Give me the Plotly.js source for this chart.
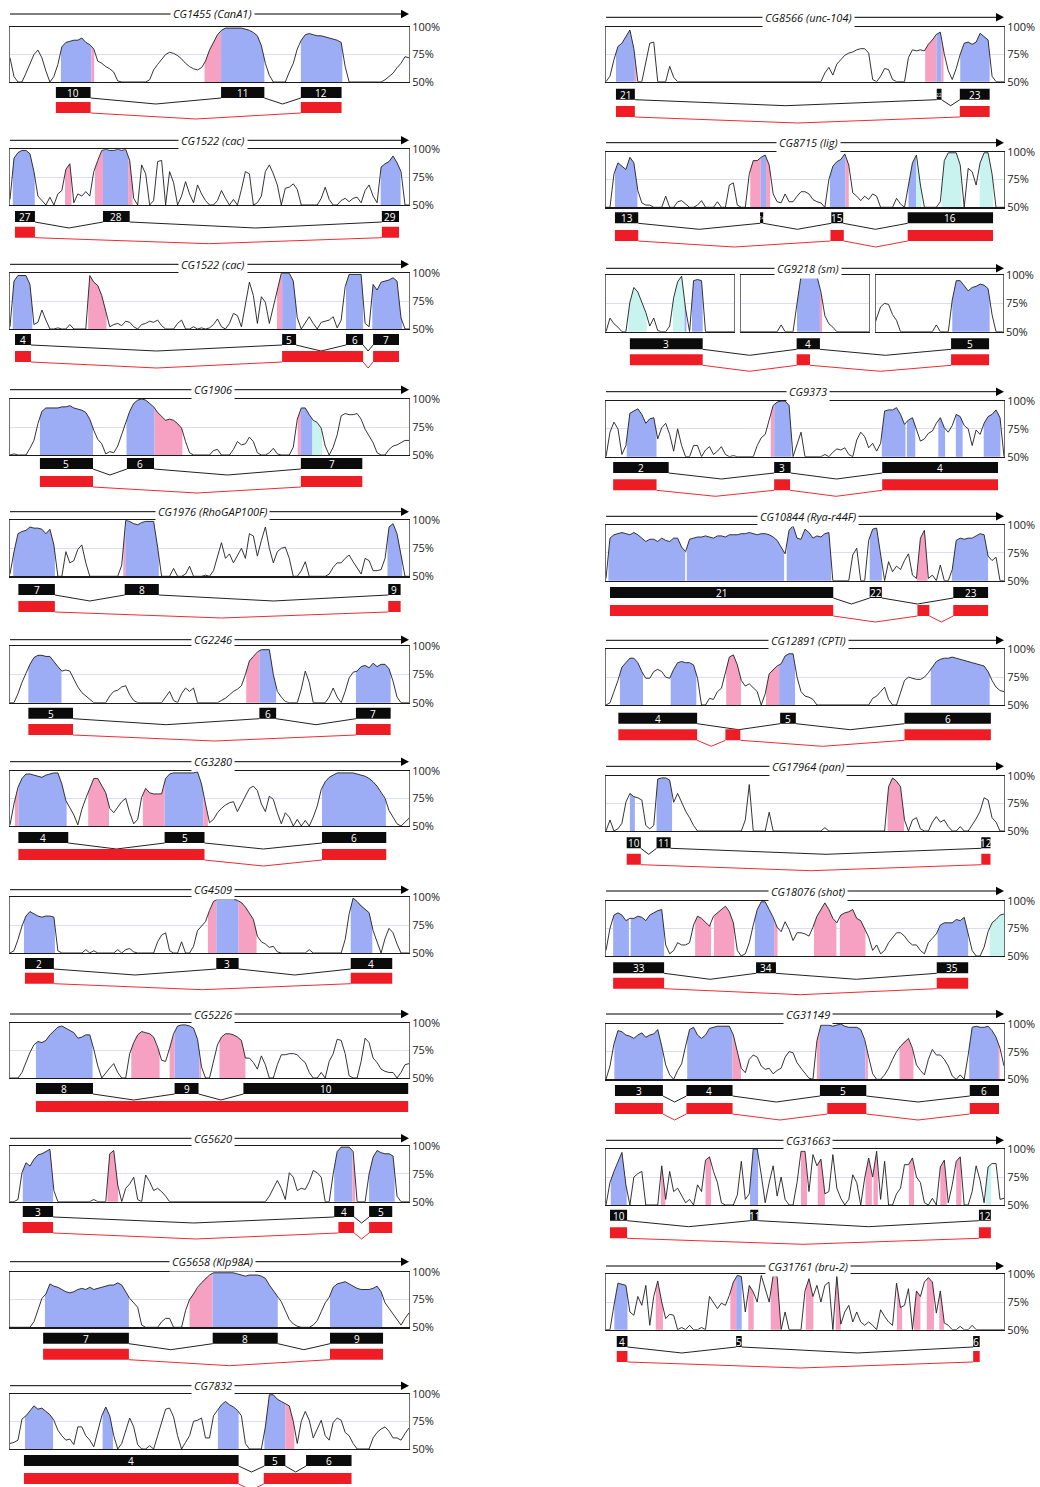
<!DOCTYPE html>
<html>
<head>
<meta charset="utf-8">
<script src="https://cdn.plot.ly/plotly-3.0.1.min.js"></script>
<style>
  html, body { margin: 0; padding: 0; background: #fff; }
  #chart { width: 1040px; height: 1487px; }
</style>
</head>
<body>
<div id="chart"></div>
<script>
// Conservation profiles (% identity, 50-100) sampled at 101 evenly spaced
// positions across each gene window (position 0..100).
const consCG1455 = [
72,55,50,50,58,67,75,79,72,60, 50,55,66,82,86,87,88,88,90,86,
84,80,69,67,64,62,59,51,50,50, 50,50,50,50,50,52,61,66,71,75,
77,76,74,71,67,64,62,61,63,69, 79,86,93,97,99,99,99,99,99,98,
97,95,92,83,67,56,50,50,50,50, 59,67,80,88,93,94,93,92,92,91,
90,89,88,86,64,50,50,50,50,50, 50,50,50,50,52,55,58,63,67,73, 72];
const consCG1522A = [
55,92,97,99,99,96,80,58,54,50, 57,50,60,63,82,87,52,60,58,62,
58,80,90,99,100,99,99,100,99,100, 90,56,50,86,78,50,54,89,90,50,
80,70,50,58,71,60,52,68,60,54, 50,50,54,63,56,50,55,50,64,80,
78,50,52,58,80,86,78,68,50,65, 66,69,64,50,50,50,50,50,56,66,
55,50,50,54,56,53,56,57,52,63, 68,58,52,84,87,89,94,88,80,50, 50];
const consCG1522B = [
52,93,98,98,98,90,54,56,67,58, 50,50,51,50,50,54,50,50,50,50,
98,92,89,80,66,52,54,55,53,57, 56,52,50,54,55,57,56,58,53,50,
50,50,55,58,50,50,52,50,51,50, 51,54,59,52,50,55,64,62,52,72,
92,80,55,79,74,55,70,85,100,100, 100,93,60,50,55,61,55,50,56,57,
58,61,51,58,88,99,99,99,99,55, 52,90,85,92,93,94,96,93,60,50, 50];
const consCG1906 = [
50,51,50,50,50,56,63,78,89,92, 92,92,92,93,93,94,92,91,90,88,
82,72,64,60,51,53,52,58,68,78, 89,96,99,100,99,96,93,88,84,81,
82,81,78,74,62,52,50,50,50,50, 50,54,55,50,50,50,55,62,59,60,
66,62,52,50,50,52,56,51,50,50, 50,57,82,92,92,86,81,79,74,58,
50,57,68,85,87,86,86,87,82,73, 67,61,52,50,50,55,58,59,61,63, 63];
const consCG1976 = [
52,72,88,90,91,94,93,93,92,88, 92,78,50,50,72,62,64,74,78,62,
50,50,50,50,50,50,50,50,60,100, 99,97,96,98,99,99,99,76,50,50,
50,57,50,50,52,59,50,50,50,51, 50,55,68,80,66,70,62,68,75,66,
88,86,68,82,94,75,62,72,75,76, 66,50,50,55,63,50,50,50,50,50,
52,58,62,62,66,69,63,58,52,66, 64,55,55,56,66,94,97,88,70,50, 50];
const consCG2246 = [
50,50,58,68,76,84,90,92,92,91, 91,86,82,78,79,78,71,64,59,56,
53,50,50,50,50,56,60,61,64,65, 57,52,50,50,50,50,50,50,50,55,
60,52,50,58,63,60,63,50,50,50, 50,50,50,52,54,57,60,62,65,75,
87,91,95,97,97,97,75,60,55,51, 50,50,50,62,78,68,50,50,50,50,
55,63,55,50,60,72,77,78,82,83, 81,85,82,84,84,80,69,55,50,50, 50];
const consCG3280 = [
51,70,85,93,97,97,96,95,94,96, 97,98,98,88,73,67,60,51,65,75,
84,93,93,86,80,66,62,67,72,75, 62,52,56,76,84,80,79,79,79,93,
97,98,98,98,98,98,98,99,88,70, 53,56,62,66,69,71,72,63,70,78,
84,86,82,70,63,77,74,62,52,62, 58,50,56,50,55,50,58,68,83,90,
94,96,98,98,98,98,98,97,96,95, 93,90,86,80,75,64,58,52,50,54, 57];
const consCG4509 = [
50,52,62,74,83,87,85,83,82,83, 83,82,52,50,50,50,50,50,50,53,
50,52,50,50,50,50,50,53,50,53, 54,51,50,50,50,50,50,60,66,68,
52,50,50,60,50,50,56,70,74,78, 88,96,98,98,98,98,98,97,95,91,
86,80,65,60,58,55,56,51,50,50, 50,50,50,50,50,53,50,50,50,50,
50,50,50,50,62,85,99,96,92,89, 86,70,60,50,63,72,68,58,50,50, 50];
const consCG5226 = [
50,50,50,55,64,73,80,83,82,84, 89,93,96,97,95,93,91,86,87,89,
89,76,61,50,54,59,63,55,50,50, 72,82,89,92,91,90,87,78,66,65,
77,90,97,98,98,97,95,85,60,50, 50,66,80,87,90,90,89,87,84,68,
68,64,58,70,62,50,50,62,71,71, 72,72,71,67,64,55,50,50,55,50,
65,72,85,84,72,52,50,50,65,86, 82,68,64,58,56,55,55,50,55,62, 63];
const consCG5620 = [
50,50,52,76,85,82,88,92,93,95, 97,60,50,50,50,50,50,50,50,50,
50,52,50,50,50,93,96,65,50,62, 66,72,52,50,74,68,60,62,59,55,
50,50,50,50,50,50,50,50,50,50, 50,50,50,50,50,50,50,50,50,50,
50,50,50,50,50,55,62,69,62,52, 76,72,60,62,61,68,78,76,72,50,
50,75,95,99,99,99,95,50,50,50, 75,90,96,94,93,93,91,55,50,50, 50];
const consCG5658 = [
50,50,50,50,50,50,55,66,76,80, 89,87,86,84,82,81,82,84,85,84,
86,84,85,86,87,88,88,90,88,82, 76,72,68,52,50,50,50,50,55,58,
58,50,50,50,65,75,80,86,90,94, 97,99,99,99,99,99,99,98,97,96,
97,97,97,96,94,88,83,78,73,65, 57,53,51,50,50,50,52,56,64,72,
77,86,89,90,91,89,87,85,84,84, 84,85,87,82,72,67,62,57,52,58, 63];
const consCG7832 = [
55,56,58,77,80,84,89,86,87,84, 81,76,67,62,58,59,54,70,70,62,
58,52,66,80,88,80,62,50,55,66, 78,70,54,50,50,53,50,62,74,86,
87,79,62,50,56,62,75,76,78,60, 60,80,85,90,93,90,88,85,80,55,
50,50,50,50,70,99,99,95,93,91, 89,75,55,75,84,76,60,68,76,62,
58,74,78,76,65,62,55,50,50,50, 50,60,65,68,70,66,60,60,58,64, 69];
const consCG8566 = [
50,55,70,82,85,91,97,80,50,50, 68,85,86,50,50,50,64,54,50,50,
50,50,50,50,50,50,50,50,50,50, 50,50,50,50,50,50,50,50,50,50,
50,50,50,50,50,50,50,50,50,50, 50,50,50,50,50,58,63,56,66,70,
74,76,77,79,80,80,76,52,50,55, 62,61,52,50,50,50,72,79,78,79,
78,84,88,93,95,75,60,52,62,75, 85,86,84,86,94,91,88,55,50,50, 50];
const consCG8715 = [
50,50,80,90,87,84,95,90,65,54, 52,52,50,50,50,60,50,50,55,56,
53,50,50,52,56,50,50,50,55,50, 50,70,72,52,50,50,80,92,92,95,
97,88,62,55,54,62,55,55,60,64, 64,62,57,55,54,50,75,87,91,93,
98,88,63,60,56,60,57,62,60,50, 50,50,50,58,53,50,70,90,97,70,
50,50,50,50,55,92,99,99,99,88, 50,85,82,70,90,99,99,80,50,50, 50];
const consCG9218 = [
50,62,57,54,50,50,76,89,85,76, 67,55,62,51,50,50,55,80,94,99,
70,50,95,96,95,50,50,50,50,50, 50,50,50,50,50,50,50,50,50,50,
50,50,50,50,56,50,50,50,75,99, 99,99,99,99,85,64,57,54,50,50,
50,50,50,50,50,50,50,50,62,72, 75,74,65,60,50,50,50,50,50,50,
50,50,50,56,50,50,50,78,95,95, 91,86,89,90,92,91,88,65,50,50, 50];
const consCG9373 = [
50,72,81,75,52,60,89,91,93,88, 80,84,85,66,76,80,70,55,75,60,
50,50,60,60,50,56,59,52,55,59, 52,50,51,50,50,50,50,50,60,67,
70,82,96,99,100,100,96,50,62,72, 50,50,50,50,50,52,50,54,57,56,
58,52,50,65,72,68,58,62,55,62, 91,92,92,94,88,79,83,85,75,64,
66,71,73,80,85,76,72,78,88,86, 78,75,60,74,70,80,86,88,92,85, 50];
const consCG10844 = [
52,88,91,92,93,92,91,93,91,88, 85,87,87,85,88,86,85,88,88,80,
76,87,88,89,89,90,89,88,90,90, 89,91,91,91,92,92,93,92,91,92,
92,91,89,86,80,74,95,99,88,87, 96,93,88,90,89,92,93,50,50,50,
50,50,73,79,50,50,86,96,97,72, 50,67,58,63,60,68,74,55,52,88,
95,52,55,50,64,50,50,60,86,88, 87,88,88,90,92,91,72,68,71,50, 50];
const consCG12891 = [
50,52,62,72,84,88,92,92,88,80, 74,74,80,82,80,75,74,82,88,89,
88,88,86,74,50,50,56,55,62,65, 80,93,95,86,72,67,69,65,62,50,
60,78,82,85,87,94,96,96,75,62, 58,57,55,50,50,50,50,50,50,50,
50,50,50,50,50,50,50,56,58,62, 66,55,50,50,62,72,75,74,73,73,
75,79,84,89,91,92,92,93,92,91, 90,89,88,87,86,85,80,72,66,63, 62];
const consCG17964 = [
50,60,50,52,57,76,84,81,80,78, 55,52,55,97,98,98,96,76,84,76,
68,62,55,50,50,50,50,50,50,50, 50,50,50,50,50,60,92,50,50,50,
50,67,50,50,50,50,50,50,50,50, 50,50,50,50,50,53,50,50,50,50,
50,50,50,50,50,50,50,50,50,50, 50,90,98,95,90,60,50,60,62,52,
50,50,58,63,58,60,54,50,50,54, 50,50,55,61,68,80,78,62,58,50, 50];
const consCG18076 = [
55,75,87,89,87,82,84,84,86,85, 82,87,89,91,92,60,52,55,62,60,
60,62,78,86,84,80,77,86,89,92, 95,90,80,55,50,52,62,78,92,99,
99,92,85,76,72,81,74,64,71,71, 70,68,76,86,92,98,92,84,80,87,
89,90,92,84,82,74,67,55,60,52, 55,62,66,71,71,68,63,60,60,55,
52,62,66,70,78,80,80,80,83,82, 85,70,55,50,50,58,72,80,83,87, 88];
const consCG31149 = [
50,62,82,94,93,90,89,87,90,92, 88,90,91,95,80,63,54,50,58,64,
80,95,97,90,87,90,96,97,98,98, 98,98,90,75,60,56,68,72,70,62,
59,60,55,58,60,70,75,74,65,60, 55,51,50,85,99,99,99,98,99,100,
98,97,97,97,95,86,70,55,50,50, 54,60,68,75,80,84,87,78,63,58,
54,68,77,72,72,68,62,53,50,54, 50,72,97,98,97,97,98,94,88,78, 62];
const consCG31663 = [
50,70,80,88,97,68,50,75,78,80, 50,50,50,50,85,55,80,62,65,58,
52,55,50,68,62,90,93,80,70,52, 50,50,50,59,89,55,60,100,100,77,
52,70,85,58,75,55,50,50,70,98, 98,62,95,85,91,60,62,95,65,56,
50,55,77,70,50,74,92,75,98,55, 89,50,50,60,65,86,86,92,75,70,
52,50,56,50,84,90,52,68,89,93, 50,50,62,85,72,52,84,87,87,55, 56];
const consCG31761 = [
50,50,72,92,91,90,66,63,80,72, 90,54,80,94,75,60,64,63,50,52,
50,54,50,50,52,50,80,75,69,74, 72,81,93,99,98,66,90,84,75,99,
88,75,99,98,50,66,50,50,50,50, 85,96,80,90,75,90,93,50,99,55,
66,72,57,66,57,54,57,54,50,68, 62,57,54,92,70,72,87,50,85,80,
93,97,93,65,85,56,54,50,50,53, 50,50,54,50,50,50,50,50,50,50, 50];

// Conserved regions: [start, end, class]
const regCG1455 = [[12.75,20.4,'coding'],[20.4,21.1,'noncoding'],[48.75,52.9,'noncoding'],[52.9,63.75,'coding'],[72.9,83.3,'coding']];
const regCG1522A = [[0.7,6.2,'coding'],[13.8,15.4,'noncoding'],[21.3,23.3,'noncoding'],[23.3,29.6,'coding'],[29.6,30.7,'noncoding'],[92.9,97.9,'coding']];
const regCG1522B = [[0.7,5.6,'coding'],[19.6,24.2,'noncoding'],[66.9,68.2,'noncoding'],[68.2,71.7,'coding'],[84.2,88.5,'coding'],[90.8,98.3,'coding']];
const regCG1906 = [[7.5,20.8,'coding'],[29.2,36.25,'coding'],[36.25,43.2,'noncoding'],[72.1,72.9,'noncoding'],[72.9,75.8,'coding'],[75.8,78.2,'utr']];
const regCG1976 = [[0.8,11.25,'coding'],[28.4,28.9,'noncoding'],[28.9,37.3,'coding'],[94.6,98.3,'coding']];
const regCG2246 = [[4.6,12.9,'coding'],[59.2,62.5,'noncoding'],[62.5,66.7,'coding'],[86.7,95.4,'coding']];
const regCG3280 = [[1.25,2.1,'noncoding'],[2.1,14.2,'coding'],[19.6,24.8,'noncoding'],[33.3,38.75,'noncoding'],[38.75,48.5,'coding'],[48.5,49.6,'noncoding'],[78.2,94.2,'coding']];
const regCG4509 = [[3.5,11.25,'coding'],[49.6,51.7,'noncoding'],[51.7,57.3,'coding'],[57.3,61.8,'noncoding'],[85.4,90.8,'coding']];
const regCG5226 = [[6.5,20.7,'coding'],[30.4,37.5,'noncoding'],[40,41.25,'noncoding'],[41.25,47.5,'coding'],[47.5,47.9,'noncoding'],[52.5,59,'noncoding']];
const regCG5620 = [[3.2,10.8,'coding'],[24.4,27.1,'noncoding'],[81.25,85.8,'coding'],[85.8,86.5,'noncoding'],[90,96.4,'coding']];
const regCG5658 = [[8.75,29.8,'coding'],[45,50.8,'noncoding'],[50.8,67.1,'coding'],[80.2,93.3,'coding']];
const regCG7832 = [[3.75,10.8,'coding'],[23.2,25.8,'coding'],[52.1,57.3,'coding'],[63.75,69,'coding'],[69,71.25,'noncoding']];
const regCG8566 = [[2.5,7.25,'coding'],[7.25,7.7,'noncoding'],[80.2,83,'noncoding'],[83,84.25,'coding'],[84.25,84.8,'noncoding'],[89,96.4,'coding']];
const regCG8715 = [[2.25,7.9,'coding'],[36.25,38.9,'noncoding'],[38.9,40.2,'coding'],[40.2,41.25,'noncoding'],[56.25,60.2,'coding'],[60.2,61,'noncoding'],[76,77.9,'coding'],[77.9,79.3,'utr'],[84.3,89.3,'utr'],[93.9,97.25,'utr']];
const regCG9218 = [[5.6,10.2,'utr'],[16.8,19.75,'utr'],[19.75,20.2,'coding'],[21.6,24.3,'coding'],[48,53.75,'coding'],[53.75,54.3,'noncoding'],[87,96.4,'coding']];
const regCG9373 = [[5.2,12.7,'coding'],[41.4,42.25,'noncoding'],[42.25,46.6,'coding'],[69.3,75.25,'coding'],[75.6,77.7,'coding'],[83.5,85.2,'coding'],[87.9,89.6,'coding'],[94.9,99.1,'coding']];
const regCG10844 = [[0.6,19.9,'coding'],[20.3,44.75,'coding'],[45.4,56.6,'coding'],[66.25,69.3,'coding'],[78.1,80.8,'noncoding'],[86.9,96,'coding']];
const regCG12891 = [[3.5,9.3,'coding'],[16.25,22.7,'coding'],[30.2,33.9,'noncoding'],[40.2,43.5,'noncoding'],[43.5,47.5,'coding'],[81.6,96.4,'coding']];
const regCG17964 = [[6,7.25,'coding'],[12.7,16.6,'coding'],[70.75,74.9,'noncoding']];
const regCG18076 = [[1.8,5.75,'coding'],[6.2,14.6,'coding'],[22.4,26.4,'noncoding'],[27.1,32.25,'noncoding'],[37.4,42.25,'coding'],[42.25,43.1,'noncoding'],[52.25,57.9,'noncoding'],[58.75,65.2,'noncoding'],[83.3,91,'coding'],[96.4,100,'utr']];
const regCG31149 = [[2.1,14.3,'coding'],[20.4,31.8,'coding'],[31.8,33.9,'noncoding'],[53,53.75,'noncoding'],[53.75,65.2,'coding'],[65.2,65.8,'noncoding'],[73.75,77.25,'noncoding'],[91.25,98.5,'coding'],[98.5,98.9,'noncoding']];
const regCG31663 = [[1.2,5.2,'coding'],[13.8,14.9,'noncoding'],[25,26.4,'noncoding'],[36.2,38.2,'coding'],[49,50.5,'noncoding'],[53.2,55,'noncoding'],[65.2,66.8,'noncoding'],[67.2,68.3,'noncoding'],[76.1,77.4,'noncoding'],[84,85.6,'noncoding'],[88,89.3,'noncoding'],[95.4,96.8,'utr']];
const regCG31761 = [[2.1,5.4,'coding'],[12.5,14.3,'noncoding'],[31.25,32.7,'noncoding'],[32.7,34.1,'coding'],[35.75,37.1,'noncoding'],[41.4,43.75,'noncoding'],[50.2,52.1,'noncoding'],[57.7,59,'noncoding'],[73.1,74.4,'noncoding'],[77.4,79,'noncoding'],[80.6,82.4,'noncoding'],[83.75,84.9,'noncoding']];

// Exon models: [start, end, exon number]
const exCG1455 = [[11.5,20.2,'10'],[52.9,63.75,'11'],[72.9,83.1,'12']];
const exCG1522A = [[1.25,6.25,'27'],[23.3,30,'28'],[93.2,97.5,'29']];
const exCG1522B = [[1.25,5.25,'4'],[68.2,71.7,'5'],[84.2,88.5,'6'],[91,97.5,'7']];
const exCG1906 = [[7.5,20.8,'5'],[29.3,36.1,'6'],[72.9,88.3,'7']];
const exCG1976 = [[2.1,11.25,'7'],[28.75,37.3,'8'],[94.8,97.9,'9']];
const exCG2246 = [[4.6,15.8,'5'],[62.5,66.7,'6'],[86.7,95.4,'7']];
const exCG3280 = [[2.1,14.6,'4'],[38.75,48.75,'5'],[78.2,94.3,'6']];
const exCG4509 = [[3.75,11,'2'],[51.7,57.3,'3'],[85.4,95.8,'4']];
const exCG5226 = [[6.5,20.8,'8'],[41.25,47.25,'9'],[58.5,99.8,'10']];
const exCG5620 = [[3.2,10.8,'3'],[81.25,86.25,'4'],[90,95.8,'5']];
const exCG5658 = [[8.3,29.8,'7'],[50.8,67.1,'8'],[80.2,93.5,'9']];
const exCG7832 = [[3.5,57.3,'4'],[63.75,69,'5'],[74.2,85.6,'6']];
const exCG8566 = [[2.5,7.25,'21'],[83.1,84.3,'22'],[88.9,96.4,'23']];
const exCG8715 = [[2.25,8.1,'13'],[38.7,39.5,'14'],[56.6,59.6,'15'],[75.8,97.25,'16']];
const exCG9218 = [[6,24.3,'3'],[47.9,53.75,'4'],[86.7,96.25,'5']];
const exCG9373 = [[1.8,15.75,'2'],[42.25,46.4,'3'],[69.4,98.5,'4']];
const exCG10844 = [[1,57.1,'21'],[66.25,69.3,'22'],[87.25,96,'23']];
const exCG12891 = [[3.1,22.9,'4'],[43.75,47.7,'5'],[75,96.7,'6']];
const exCG17964 = [[5.2,8.75,'10'],[12.7,16.25,'11'],[94.3,96.6,'12']];
const exCG18076 = [[1.8,14.6,'33'],[37.7,42.7,'34'],[83.1,91,'35']];
const exCG31149 = [[2.25,14.3,'3'],[20.2,31.8,'4'],[53.75,65.4,'5'],[91.4,98.75,'6']];
const exCG31663 = [[1,5.3,'10'],[36.25,38.25,'11'],[93.7,96.7,'12']];
const exCG31761 = [[2.7,5.4,'4'],[32.7,34.1,'5'],[92.25,93.9,'6']];

// Second transcript (red track): [start, end]
const isoCG1455 = [[11.5,20.2],[72.9,83.1]];
const isoCG1522A = [[1.25,6.25],[93.2,97.5]];
const isoCG1522B = [[1.25,5.25],[68.2,88.5],[91,97.5]];
const isoCG1906 = [[7.5,20.8],[72.9,88.3]];
const isoCG1976 = [[2.1,11.25],[94.8,97.9]];
const isoCG2246 = [[4.6,15.8],[86.7,95.4]];
const isoCG3280 = [[2.1,48.75],[78.2,94.3]];
const isoCG4509 = [[3.75,11],[85.4,95.8]];
const isoCG5226 = [[6.5,99.8]];
const isoCG5620 = [[3.2,10.8],[82.3,86.25],[90,95.8]];
const isoCG5658 = [[8.3,29.8],[80.2,93.5]];
const isoCG7832 = [[3.5,57.3],[63.6,85.6]];
const isoCG8566 = [[2.5,7.25],[88.9,96.4]];
const isoCG8715 = [[2.25,8.1],[56.4,59.75],[75.8,97.25]];
const isoCG9218 = [[6,24.3],[47.9,51.25],[86.7,96.25]];
const isoCG9373 = [[1.8,12.7],[42.25,46.25],[69.4,98.5]];
const isoCG10844 = [[1,57.1],[78.25,81.25],[87.25,96]];
const isoCG12891 = [[3.1,22.9],[30,33.75],[75,96.7]];
const isoCG17964 = [[5.2,8.75],[94.3,96.6]];
const isoCG18076 = [[1.8,14.6],[83.1,91]];
const isoCG31149 = [[2.25,14.3],[20.2,31.8],[55.6,65.4],[91.4,98.75]];
const isoCG31663 = [[1,5.3],[93.7,96.7]];
const isoCG31761 = [[2.7,5.4],[92.25,93.9]];

// Windows shown for the broken-axis panel of CG9218
const windowsCG9218 = [[0,32.2],[33.9,66.1],[67.8,99.7]];

const panels = [
  {name:'CG1455 (CanA1)', cons:consCG1455, regions:regCG1455, exons:exCG1455, iso:isoCG1455},
  {name:'CG1522 (cac)', cons:consCG1522A, regions:regCG1522A, exons:exCG1522A, iso:isoCG1522A},
  {name:'CG1522 (cac)', cons:consCG1522B, regions:regCG1522B, exons:exCG1522B, iso:isoCG1522B},
  {name:'CG1906', cons:consCG1906, regions:regCG1906, exons:exCG1906, iso:isoCG1906},
  {name:'CG1976 (RhoGAP100F)', cons:consCG1976, regions:regCG1976, exons:exCG1976, iso:isoCG1976},
  {name:'CG2246', cons:consCG2246, regions:regCG2246, exons:exCG2246, iso:isoCG2246},
  {name:'CG3280', cons:consCG3280, regions:regCG3280, exons:exCG3280, iso:isoCG3280},
  {name:'CG4509', cons:consCG4509, regions:regCG4509, exons:exCG4509, iso:isoCG4509},
  {name:'CG5226', cons:consCG5226, regions:regCG5226, exons:exCG5226, iso:isoCG5226},
  {name:'CG5620', cons:consCG5620, regions:regCG5620, exons:exCG5620, iso:isoCG5620},
  {name:'CG5658 (Klp98A)', cons:consCG5658, regions:regCG5658, exons:exCG5658, iso:isoCG5658},
  {name:'CG7832', cons:consCG7832, regions:regCG7832, exons:exCG7832, iso:isoCG7832},
  {name:'CG8566 (unc-104)', cons:consCG8566, regions:regCG8566, exons:exCG8566, iso:isoCG8566},
  {name:'CG8715 (lig)', cons:consCG8715, regions:regCG8715, exons:exCG8715, iso:isoCG8715},
  {name:'CG9218 (sm)', cons:consCG9218, regions:regCG9218, exons:exCG9218, iso:isoCG9218, windows:windowsCG9218},
  {name:'CG9373', cons:consCG9373, regions:regCG9373, exons:exCG9373, iso:isoCG9373},
  {name:'CG10844 (Rya-r44F)', cons:consCG10844, regions:regCG10844, exons:exCG10844, iso:isoCG10844},
  {name:'CG12891 (CPTI)', cons:consCG12891, regions:regCG12891, exons:exCG12891, iso:isoCG12891},
  {name:'CG17964 (pan)', cons:consCG17964, regions:regCG17964, exons:exCG17964, iso:isoCG17964},
  {name:'CG18076 (shot)', cons:consCG18076, regions:regCG18076, exons:exCG18076, iso:isoCG18076},
  {name:'CG31149', cons:consCG31149, regions:regCG31149, exons:exCG31149, iso:isoCG31149},
  {name:'CG31663', cons:consCG31663, regions:regCG31663, exons:exCG31663, iso:isoCG31663},
  {name:'CG31761 (bru-2)', cons:consCG31761, regions:regCG31761, exons:exCG31761, iso:isoCG31761}
];

// Page placement of each panel (pixels): title line, plot box top/bottom, exon row, transcript row
const slots = [
  {col:0, title:14,     top:27,     bottom:82,     exon:87,     iso:102},
  {col:0, title:140.3,  top:149.3,  bottom:205,    exon:211,    iso:226.7},
  {col:0, title:264.3,  top:273.3,  bottom:329,    exon:334,    iso:351},
  {col:0, title:389.7,  top:399,    bottom:455,    exon:458,    iso:476},
  {col:0, title:511.7,  top:520.3,  bottom:576.3,  exon:584,    iso:601},
  {col:0, title:639.7,  top:646.3,  bottom:702.7,  exon:707.7,  iso:724},
  {col:0, title:761.7,  top:770.7,  bottom:826,    exon:832,    iso:849},
  {col:0, title:889.7,  top:897,    bottom:953,    exon:958,    iso:972.7},
  {col:0, title:1014,   top:1022.7, bottom:1078,   exon:1083,   iso:1101},
  {col:0, title:1138.3, top:1146,   bottom:1201.7, exon:1206,   iso:1222},
  {col:0, title:1261.7, top:1271.7, bottom:1327.3, exon:1332.7, iso:1348.7},
  {col:0, title:1385.7, top:1393.7, bottom:1449,   exon:1455,   iso:1473},
  {col:1, title:17.3,   top:26.7,   bottom:81.7,   exon:88.7,   iso:106},
  {col:1, title:142.7,  top:151.7,  bottom:207.3,  exon:212.3,  iso:230},
  {col:1, title:268.3,  top:275,    bottom:331.7,  exon:338.3,  iso:354.3},
  {col:1, title:391.7,  top:401,    bottom:456.7,  exon:462,    iso:479.3},
  {col:1, title:516.3,  top:524.7,  bottom:580.7,  exon:587,    iso:605},
  {col:1, title:640.3,  top:649.3,  bottom:705,    exon:712.7,  iso:729.3},
  {col:1, title:766.3,  top:775.7,  bottom:831,    exon:837.3,  iso:853.7},
  {col:1, title:891,    top:900.7,  bottom:956,    exon:962.3,  iso:977.7},
  {col:1, title:1014,   top:1024,   bottom:1079.3, exon:1085,   iso:1103},
  {col:1, title:1140.3, top:1149,   bottom:1205,   exon:1209.7, iso:1227.3},
  {col:1, title:1266,   top:1274.3, bottom:1329.7, exon:1336,   iso:1351}
];

const W = 1040, H = 1487;
const columnX = [[10, 409], [606, 1004]];
const FONT = '"Open Sans", "Liberation Sans", Arial, sans-serif';
const FILL = {coding:'#9dadf5', noncoding:'#f6a0c2', utr:'#c8f3ee'};
const BOX_H = 11, V_DEPTH = 6;

const traces = [];
const shapes = [];
const annotations = [];
const layout = {
  width: W, height: H, autosize: false,
  margin: {l:0, r:0, t:0, b:0, pad:0},
  paper_bgcolor: '#ffffff', plot_bgcolor: 'rgba(0,0,0,0)',
  showlegend: false, font: {family: FONT},
  shapes: shapes, annotations: annotations
};

let nAx = 0;
const axKey = (c, n) => c + 'axis' + (n === 1 ? '' : n);
const axRef = (c, n) => c + (n === 1 ? '' : n);

// linear interpolation along a profile, used to close region fills at their edges
function valueAt(xs, ys, x) {
  for (let i = 1; i < xs.length; i++) {
    if (x <= xs[i]) {
      const t = (x - xs[i-1]) / (xs[i] - xs[i-1]);
      return ys[i-1] + t * (ys[i] - ys[i-1]);
    }
  }
  return ys[ys.length - 1];
}

panels.forEach((p, k) => {
  const s = slots[k];
  const [L, R] = columnX[s.col];
  const span = R - L;
  const xs = p.cons.map((v, i) => i * 100 / (p.cons.length - 1));
  const windows = p.windows || [[0, 100]];

  // conservation plot(s)
  windows.forEach((w, wi) => {
    const n = ++nAx;
    const xr = axRef('x', n), yr = axRef('y', n);
    const pxL = L + span * w[0] / 100, pxR = L + span * w[1] / 100;
    layout[axKey('x', n)] = {
      domain: [pxL / W, pxR / W], range: [w[0], w[1]], anchor: yr,
      showgrid: false, zeroline: false, showticklabels: false, ticks: '',
      showline: true, mirror: true, linecolor: '#1a1a1a', linewidth: 1.2, fixedrange: true
    };
    layout[axKey('y', n)] = {
      domain: [1 - s.bottom / H, 1 - s.top / H], range: [50, 100], anchor: xr, side: 'right',
      tickvals: [50, 75, 100], ticktext: ['50%', '75%', '100%'], ticks: '',
      showticklabels: wi === windows.length - 1,
      tickfont: {family: FONT, size: 11, color: '#222'},
      showgrid: true, gridcolor: '#dcdcf3', gridwidth: 1, zeroline: false,
      showline: true, mirror: true, linecolor: '#707070', linewidth: 1, fixedrange: true
    };
    p.regions.forEach(r => {
      const rx = [r[0]], ry = [valueAt(xs, p.cons, r[0])];
      xs.forEach((x, i) => { if (x > r[0] && x < r[1]) { rx.push(x); ry.push(p.cons[i]); } });
      rx.push(r[1]); ry.push(valueAt(xs, p.cons, r[1]));
      traces.push({type:'scatter', mode:'lines', x:rx, y:ry, xaxis:xr, yaxis:yr,
        fill:'tozeroy', fillcolor:FILL[r[2]], line:{width:0, color:FILL[r[2]]}, hoverinfo:'skip'});
    });
    traces.push({type:'scatter', mode:'lines', x:xs, y:p.cons, xaxis:xr, yaxis:yr,
      line:{color:'#1e1e1e', width:0.9}, hoverinfo:'skip'});
  });

  // gene structure rows share a full-width axis
  const n = ++nAx;
  const xr = axRef('x', n), yr = axRef('y', n);
  const depth = Math.min(s.iso + BOX_H + 9, H) - s.bottom;
  layout[axKey('x', n)] = {domain: [L / W, R / W], range: [0, 100], anchor: yr, visible: false, fixedrange: true};
  layout[axKey('y', n)] = {domain: [1 - (s.bottom + depth) / H, 1 - s.bottom / H], range: [depth, 0], anchor: xr, visible: false, fixedrange: true};

  const drawTrack = (boxes, top, color, lineColor, labels) => {
    const lx = [], ly = [];
    boxes.forEach((b, i) => {
      shapes.push({type:'rect', xref:xr, yref:yr, x0:b[0], x1:b[1], y0:top, y1:top + BOX_H,
        fillcolor:color, line:{width:0}, layer:'above'});
      if (labels) {
        const wpx = (b[1] - b[0]) * span / 100;
        annotations.push({xref:xr, yref:yr, x:(b[0] + b[1]) / 2, y:top + BOX_H / 2 + 0.3,
          text:b[2], showarrow:false, xanchor:'center', yanchor:'middle',
          font:{family:FONT, size: wpx < 5.5 ? 5 : 10, color:'#ffffff'}});
      }
      if (i < boxes.length - 1) {
        const a = b[1], c = boxes[i + 1][0];
        lx.push(a, (a + c) / 2, c, null);
        ly.push(top + BOX_H, top + BOX_H + V_DEPTH, top + BOX_H, null);
      }
    });
    traces.push({type:'scatter', mode:'lines', x:lx, y:ly, xaxis:xr, yaxis:yr,
      line:{color:lineColor, width:1}, hoverinfo:'skip', cliponaxis:false});
  };
  drawTrack(p.exons, s.exon - s.bottom, '#0b0b0b', '#222222', true);
  drawTrack(p.iso, s.iso - s.bottom, '#ee1d25', '#ee2a33', false);

  // title line with arrowhead and gene name
  const ty = 1 - s.title / H;
  const head = 8 * 100 / span, half = 4.2 / H;
  shapes.push({type:'line', xref:xr, yref:'paper', x0:0, x1:100 - head * 0.6, y0:ty, y1:ty,
    line:{color:'#000', width:1}});
  shapes.push({type:'path', xref:xr, yref:'paper',
    path:`M ${100 - head},${ty + half} L 100,${ty} L ${100 - head},${ty - half} Z`,
    fillcolor:'#000', line:{width:0}});
  annotations.push({xref:xr, yref:'paper', x:50.8, y:ty, text:p.name, showarrow:false,
    xanchor:'center', yanchor:'middle', bgcolor:'#ffffff', borderpad:2,
    font:{family:FONT, size:11, color:'#111', style:'italic'}});
});

Plotly.newPlot('chart', traces, layout, {staticPlot: true, displayModeBar: false});
</script>
</body>
</html>
